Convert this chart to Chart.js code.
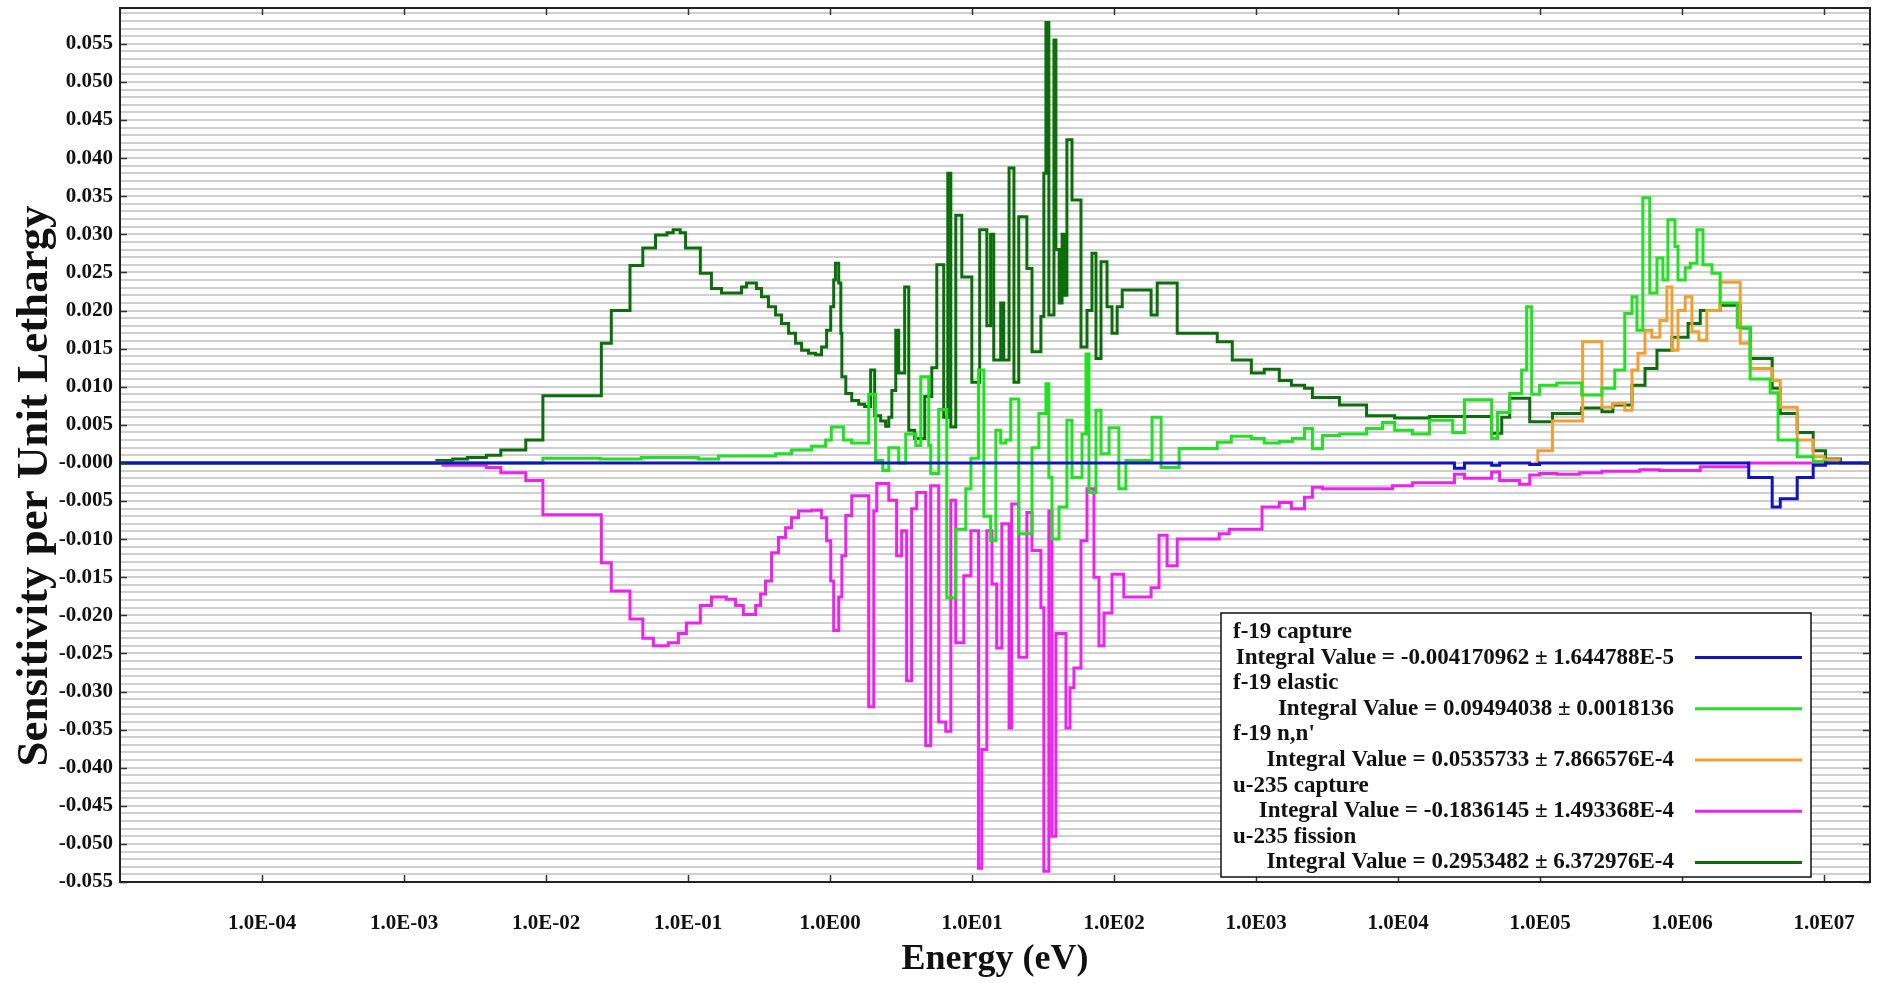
<!DOCTYPE html>
<html>
<head>
<meta charset="utf-8">
<script src="https://cdn.jsdelivr.net/npm/chart.js@4.4.1/dist/chart.umd.min.js"></script>
<style>
    html, body { margin: 0; padding: 0; background: #fff; }
    #wrap { width: 1877px; height: 983px; }
</style>
</head>
<body>
<div id="wrap"><canvas id="chart"></canvas></div>
<script>
// ---- data: bin lower edges (eV) + value per bin ----
const seriesNames = ['f-19 capture', 'f-19 elastic', "f-19 n,n'", 'u-235 capture', 'u-235 fission']
const integralValues = ['-0.004170962', '0.09494038', '0.0535733', '-0.1836145', '0.2953482']
const integralErrors = ['1.644788E-5', '0.0018136', '7.866576E-4', '1.493368E-4', '6.372976E-4']
const seriesColors = ['#1212c4', '#22e022', '#f0a030', '#ee22ee', '#0b6e0b']

const xDecades = [1e-4, 1e-3, 1e-2, 1e-1, 1e0, 1e1, 1e2, 1e3, 1e4, 1e5, 1e6, 1e7]

const f19CaptureE = [1e-5, 24900, 29300, 45500, 51800, 84400, 99000, 2.94e6, 4.3e6, 4.9e6, 6.45e6, 8.36e6, 1.02e7, 2.1e7]
const f19CaptureS = [0, -0.0007, 0, -0.0003, 0, -0.0002, 0, -0.0019, -0.0058, -0.0047, -0.0019, -0.0003, 0]

const f19ElasticE = [
    1e-5, 9.5e-3, 0.024, 0.0469, 0.118, 0.164, 0.413, 0.535, 0.741, 0.93,
    1.02, 1.24, 1.42, 1.87, 2.09, 2.35, 2.59, 3.04, 3.41, 4.01,
    4.35, 4.95, 5.11, 5.82, 6.63, 7.67, 9.03, 9.81, 11.1, 12.1,
    13.5, 14.7, 15.9, 17.3, 18.7, 21.3, 26.4, 29.5, 33.1, 34.7,
    36.5, 40.9, 46.5, 50.5, 59.4, 63.4, 66.5, 74.5, 80.8, 92.1,
    108, 121, 185, 214, 287, 532, 668, 925, 1140, 1455,
    1800, 2190, 2490, 2930, 3860, 5990, 7760, 9440, 12600, 16600,
    24200, 29300, 45500, 50100, 61000, 74000, 80300, 87100, 99000, 131000,
    196000, 272000, 335000, 394000, 443000, 480000, 528000, 591000, 664000, 731000,
    793000, 889000, 934000, 1.05e6, 1.14e6, 1.27e6, 1.4e6, 1.62e6, 1.85e6, 2.44e6,
    3.01e6, 4.16e6, 4.73e6, 6.45e6, 8.36e6, 1.02e7, 1.3e7,
]
const f19ElasticS = [
    0, 0.0006, 0.0005, 0.0007, 0.0005, 0.0009, 0.0012, 0.0017, 0.0022, 0.003,
    0.0047, 0.003, 0.0026, 0.009, 0.0003, -0.001, 0.002, 0, 0.0038, 0.0023,
    0.0113, 0.0023, -0.0014, 0.007, -0.0177, -0.0087, -0.0034, 0.0006, 0.0122, -0.007,
    -0.0102, 0.0043, 0.0026, 0.003, 0.0084, -0.0093, 0.002, 0.0065, 0.0104, -0.0019,
    -0.01, -0.0058, 0.0056, -0.0019, 0.0038, 0.0143, -0.0039, 0.0069, 0.0012, 0.0046,
    -0.0034, 0.0003, 0.006, -0.0006, 0.0019, 0.0027, 0.0035, 0.0032, 0.0026, 0.0028,
    0.0032, 0.0045, 0.0019, 0.0036, 0.0038, 0.0045, 0.0053, 0.0043, 0.0038, 0.0056,
    0.004, 0.0083, 0.0032, 0.0066, 0.0091, 0.0122, 0.0205, 0.009, 0.0102, 0.0105,
    0.0089, 0.0098, 0.0122, 0.0196, 0.0218, 0.0174, 0.0348, 0.0223, 0.0269, 0.024,
    0.0319, 0.0284, 0.024, 0.0256, 0.0262, 0.0306, 0.026, 0.0249, 0.021, 0.0178,
    0.011, 0.0092, 0.003, 0.0008, 0.0002, 0,
]

const f19InelE = [
    90000, 96200, 122000, 199000, 272000, 325000, 394000, 443000, 488000, 547000,
    611000, 696000, 780000, 847000, 934000, 1.05e6, 1.17e6, 1.31e6, 1.49e6, 1.85e6,
    2.56e6, 3.01e6, 4.3e6, 4.9e6, 6.45e6, 8.36e6, 9.98e6, 1.3e7,
]
const f19InelS = [
    0, 0.0016, 0.0055, 0.0159, 0.0073, 0.0078, 0.0069, 0.0122, 0.0144, 0.0174,
    0.0165, 0.0187, 0.0231, 0.0148, 0.02, 0.0218, 0.0172, 0.0161, 0.02, 0.0237,
    0.0157, 0.0124, 0.0108, 0.0073, 0.003, 0.0008, 0.0004,
]

const u235CaptureE = [
    1e-5, 1.88e-3, 3.8e-3, 4.8e-3, 7.2e-3, 9.5e-3, 0.0245, 0.0288, 0.039, 0.048,
    0.057, 0.0726, 0.0855, 0.0973, 0.122, 0.146, 0.186, 0.216, 0.245, 0.299,
    0.324, 0.351, 0.387, 0.433, 0.486, 0.535, 0.6, 0.741, 0.871, 0.945,
    1.01, 1.06, 1.15, 1.21, 1.29, 1.42, 1.87, 2.03, 2.13, 2.59,
    2.94, 3.19, 3.46, 3.75, 4.07, 4.71, 5.11, 5.82, 6.52, 7.08,
    7.67, 8.74, 9.81, 11.1, 11.7, 12.7, 13.8, 14.9, 16.2, 18.2,
    19.0, 21.3, 24.3, 26.4, 30.5, 32.0, 34.7, 36.5, 38.9, 45.8,
    48.9, 52.1, 58.4, 64.4, 72.1, 78.2, 84.9, 96.6, 117, 182,
    207, 236, 278, 549, 646, 1100, 1455, 1770, 2190, 2490,
    2930, 9120, 12600, 24900, 29300, 45500, 51800, 71600, 84400, 99000,
    131000, 190000, 272000, 502000, 695000, 1.34e6, 2.94e6, 1.1e7,
]
const u235CaptureS = [
    0, -0.0003, -0.0006, -0.0013, -0.0023, -0.0068, -0.0131, -0.0168, -0.0205, -0.023,
    -0.024, -0.0236, -0.0224, -0.021, -0.0187, -0.0176, -0.0179, -0.0187, -0.0199, -0.0187,
    -0.0172, -0.0155, -0.0118, -0.0098, -0.0085, -0.0072, -0.0063, -0.0062, -0.0072, -0.0102,
    -0.0155, -0.022, -0.0176, -0.0122, -0.0069, -0.0043, -0.032, -0.0063, -0.0027, -0.0049,
    -0.0122, -0.0089, -0.0286, -0.006, -0.0039, -0.0371, -0.003, -0.034, -0.0352, -0.0049,
    -0.0236, -0.0148, -0.0089, -0.0532, -0.0376, -0.0089, -0.0159, -0.0243, -0.008, -0.0348,
    -0.0054, -0.0255, -0.0065, -0.0115, -0.019, -0.0536, -0.0063, -0.049, -0.0224, -0.0348,
    -0.0295, -0.0269, -0.0102, -0.0034, -0.015, -0.024, -0.0197, -0.0146, -0.0176, -0.0164,
    -0.0095, -0.0135, -0.01, -0.0093, -0.0087, -0.0058, -0.0052, -0.006, -0.0045, -0.0032,
    -0.0034, -0.003, -0.0026, -0.0015, -0.002, -0.0012, -0.0023, -0.0028, -0.0016, -0.0014,
    -0.0015, -0.0013, -0.0011, -0.0009, -0.001, -0.0005, 0,
]

const u235FissionE = [
    1e-5, 1.7e-3, 2.2e-3, 2.8e-3, 3.8e-3, 4.8e-3, 7.2e-3, 9.5e-3, 0.0245, 0.0288,
    0.039, 0.048, 0.059, 0.071, 0.0785, 0.088, 0.096, 0.122, 0.146, 0.172,
    0.238, 0.258, 0.303, 0.329, 0.368, 0.413, 0.455, 0.51, 0.571, 0.63,
    0.705, 0.79, 0.871, 0.945, 1.01, 1.06, 1.09, 1.15, 1.19, 1.21,
    1.29, 1.42, 1.59, 1.75, 1.93, 2.06, 2.27, 2.46, 2.59, 2.72,
    2.9, 3.04, 3.35, 3.58, 3.94, 4.64, 5.2, 5.64, 6.31, 6.74,
    7.08, 7.67, 8.46, 9.95, 11.3, 12.7, 13.5, 14.2, 15.9, 16.7,
    18.2, 19.7, 21.3, 24.3, 26.4, 30.5, 32.0, 33.1, 34.7, 37.7,
    38.9, 41, 43, 44.5, 46.5, 50.5, 58.4, 64.4, 69.8, 74.5,
    80.8, 89.1, 96.6, 105, 114, 182, 201, 278, 532, 679,
    925, 1140, 1455, 1770, 2190, 2490, 3860, 5990, 9440, 16600,
    45500, 53600, 61000, 84400, 122000, 196000, 272000, 325000, 443000, 547000,
    664000, 847000, 1.1e6, 1.34e6, 1.85e6, 2.56e6, 3.01e6, 4.3e6, 4.9e6, 6.45e6,
    8.36e6, 1.02e7, 1.3e7, 2.1e7,
]
const u235FissionS = [
    0, 0.0003, 0.0005, 0.0007, 0.001, 0.0017, 0.003, 0.0088, 0.0157, 0.02,
    0.0259, 0.0282, 0.0299, 0.0302, 0.0306, 0.0302, 0.0282, 0.0249, 0.0229, 0.0223,
    0.0231, 0.0236, 0.0229, 0.0218, 0.0205, 0.0194, 0.0183, 0.017, 0.0157, 0.0148,
    0.0144, 0.0142, 0.0152, 0.0174, 0.0205, 0.024, 0.0262, 0.0236, 0.017, 0.0113,
    0.0091, 0.0082, 0.0077, 0.0074, 0.0122, 0.0062, 0.0055, 0.0048, 0.006, 0.0095,
    0.0174, 0.0118, 0.0231, 0.0043, 0.0032, 0.0087, 0.0125, 0.026, 0.006, 0.038,
    0.0047, 0.0325, 0.0244, 0.0106, 0.0306, 0.018, 0.03, 0.0135, 0.021, 0.0135,
    0.0387, 0.0106, 0.0323, 0.0255, 0.0146, 0.0192, 0.038, 0.0578, 0.0194, 0.0555,
    0.028, 0.021, 0.03, 0.022, 0.0424, 0.0345, 0.0152, 0.02, 0.0275, 0.0137,
    0.0264, 0.0205, 0.017, 0.0205, 0.0227, 0.0194, 0.0236, 0.017, 0.0159, 0.0135,
    0.0118, 0.0123, 0.0108, 0.0102, 0.0098, 0.0086, 0.0076, 0.0062, 0.0059, 0.0061,
    0.0039, 0.006, 0.0085, 0.0054, 0.0065, 0.0072, 0.0067, 0.0076, 0.0102, 0.0124,
    0.0148, 0.0165, 0.0183, 0.02, 0.0207, 0.0177, 0.0137, 0.0098, 0.0065, 0.004,
    0.0016, 0.0005, 0,
]

// ======================

const FONT = '"Liberation Serif", "Times New Roman", serif'
const Y_TITLE = 'Sensitivity per Unit Lethargy'

// value i holds from edge i to edge i+1; the last edge closes the step
const toSteps = (edges, vals) =>
    edges.map((e, i) => ({ x: e, y: vals[Math.min(i, vals.length - 1)] }))

const allSeries = [
    [f19CaptureE, f19CaptureS],
    [f19ElasticE, f19ElasticS],
    [f19InelE, f19InelS],
    [u235CaptureE, u235CaptureS],
    [u235FissionE, u235FissionS],
]

const datasets = allSeries.map(([e, s], i) => ({
    label: seriesNames[i],
    data: toSteps(e, s),
    borderColor: seriesColors[i],
    borderWidth: 3,
    stepped: true,
    pointRadius: 0,
    fill: false,
}))

const isLabeled = v => Math.round(v * 1000) % 5 === 0

// frame round the plot and the short inside tick marks
const framePlugin = {
    id: 'frame',
    afterDatasetsDraw(chart) {
        const { ctx, chartArea: a, scales } = chart
        ctx.save()
        ctx.strokeStyle = '#333'
        ctx.lineWidth = 1.5
        ctx.beginPath()
        scales.y.ticks.forEach(t => {
            if (!isLabeled(t.value)) return
            const y = Math.round(scales.y.getPixelForValue(t.value)) + 0.5
            ctx.moveTo(a.left, y); ctx.lineTo(a.left + 7, y)
            ctx.moveTo(a.right, y); ctx.lineTo(a.right - 7, y)
        })
        xDecades.forEach(v => {
            const x = Math.round(scales.x.getPixelForValue(v)) + 0.5
            ctx.moveTo(x, a.bottom); ctx.lineTo(x, a.bottom - 7)
            ctx.moveTo(x, a.top); ctx.lineTo(x, a.top + 7)
        })
        ctx.stroke()
        ctx.strokeStyle = '#222'
        ctx.lineWidth = 2
        ctx.strokeRect(a.left, a.top, a.right - a.left, a.bottom - a.top)
        ctx.restore()
    },
}

// y title sits a bit below the middle of the axis in the original
const yTitlePlugin = {
    id: 'yTitle',
    afterDraw(chart) {
        const { ctx, chartArea: a } = chart
        ctx.save()
        ctx.translate(35, (a.top + a.bottom) / 2 + 41)
        ctx.rotate(-Math.PI / 2)
        ctx.font = 'bold 45px ' + FONT
        ctx.fillStyle = '#111'
        ctx.textAlign = 'center'
        ctx.textBaseline = 'middle'
        ctx.fillText(Y_TITLE, 0, 0)
        ctx.restore()
    },
}

// the boxed legend with the integral values
const legendPlugin = {
    id: 'integralLegend',
    afterDraw(chart) {
        const { ctx, chartArea: a } = chart
        const w = 590, h = 264
        const left = a.right - 59 - w, top = a.bottom - 5 - h
        const row = 25.6
        ctx.save()
        ctx.fillStyle = '#fff'
        ctx.fillRect(left, top, w, h)
        ctx.strokeStyle = '#111'
        ctx.lineWidth = 1.5
        ctx.strokeRect(left, top, w, h)
        ctx.font = 'bold 23px ' + FONT
        ctx.textBaseline = 'middle'
        seriesNames.forEach((name, i) => {
            const y1 = top + 19 + i * 2 * row
            const y2 = y1 + row
            ctx.fillStyle = '#111'
            ctx.textAlign = 'left'
            ctx.fillText(name, left + 12, y1)
            ctx.textAlign = 'right'
            ctx.fillText('Integral Value = ' + integralValues[i] + ' \u00b1 ' + integralErrors[i], left + 453, y2)
            ctx.strokeStyle = seriesColors[i]
            ctx.lineWidth = 3
            ctx.beginPath()
            ctx.moveTo(left + 474, y2)
            ctx.lineTo(left + 581, y2)
            ctx.stroke()
        })
        ctx.restore()
    },
}

const chart = new Chart(document.getElementById('chart'), {
    type: 'line',
    data: { datasets },
    plugins: [framePlugin, yTitlePlugin, legendPlugin],
    options: {
        responsive: true,
        maintainAspectRatio: false,
        devicePixelRatio: 1,
        animation: false,
        layout: { padding: { top: 8, right: 7, left: 0, bottom: 0 } },
        plugins: {
            legend: { display: false },
            tooltip: { enabled: false },
        },
        scales: {
            x: {
                type: 'logarithmic',
                min: 1e-5,
                max: 2.1e7,
                afterBuildTicks: scale => {
                    scale.ticks = xDecades.map(v => ({ value: v }))
                },
                afterFit: scale => {
                    scale.height = 101
                    scale.paddingLeft = 0
                    scale.paddingRight = 0
                },
                ticks: {
                    autoSkip: false,
                    maxRotation: 0,
                    padding: 29,
                    color: '#111',
                    font: { family: FONT, size: 21, weight: 'bold' },
                    callback: v => {
                        const e = Math.round(Math.log10(v))
                        return '1.0E' + (e < 0 ? '-' : '') + String(Math.abs(e)).padStart(2, '0')
                    },
                },
                grid: { drawOnChartArea: false, drawTicks: false },
                border: { display: true, color: '#222', width: 2 },
                title: {
                    display: true,
                    text: 'Energy (eV)',
                    color: '#111',
                    font: { family: FONT, size: 36, weight: 'bold', lineHeight: 1 },
                    padding: { top: 0, bottom: 5 },
                },
            },
            y: {
                type: 'linear',
                min: -0.055,
                max: 0.0597,
                afterBuildTicks: scale => {
                    const ticks = []
                    for (let k = -55; k <= 59; k++) ticks.push({ value: k / 1000 })
                    scale.ticks = ticks
                },
                afterFit: scale => {
                    scale.width = 120
                    scale.paddingTop = 0
                    scale.paddingBottom = 0
                },
                ticks: {
                    autoSkip: false,
                    padding: 7,
                    color: '#111',
                    font: { family: FONT, size: 21, weight: 'bold' },
                    callback: v => {
                        if (!isLabeled(v)) return ''
                        const k = Math.round(v * 1000)
                        return k === 0 ? '-0.000' : (k / 1000).toFixed(3)
                    },
                },
                grid: { color: '#cfcfcf', lineWidth: 2, drawTicks: false },
                border: { display: true, color: '#222', width: 2 },
                title: { display: false },
            },
        },
    },
})
</script>
</body>
</html>
